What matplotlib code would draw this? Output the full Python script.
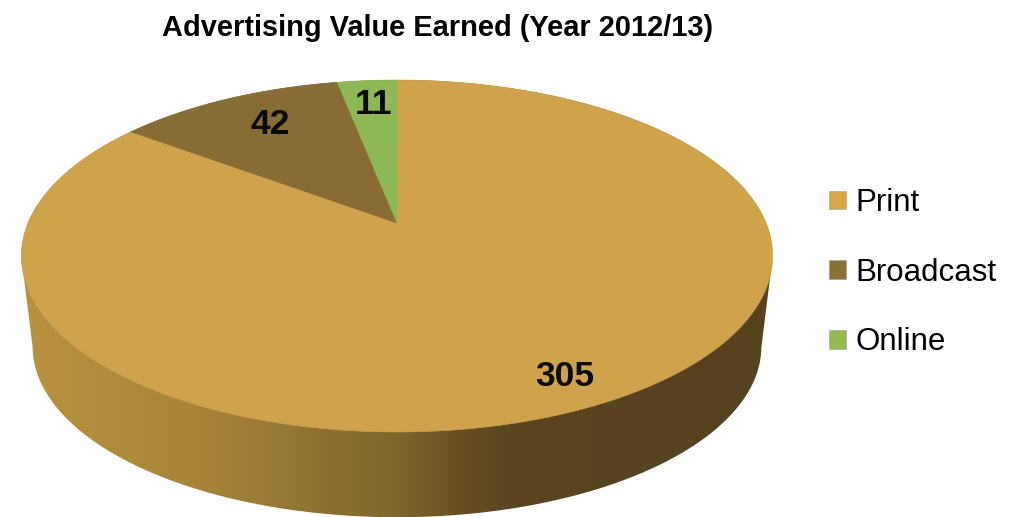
import numpy as np
import matplotlib
matplotlib.use("Agg")
import matplotlib.pyplot as plt
from matplotlib.colors import LinearSegmentedColormap
from matplotlib.patches import Patch, PathPatch, Polygon
from matplotlib.path import Path

plt.rcParams["font.family"] = ["Liberation Sans", "DejaVu Sans"]

title = "Advertising Value Earned (Year 2012/13)"
categories = ["Print", "Broadcast", "Online"]
values = [305, 42, 11]

colors = ["#CFA34C", "#876C35", "#8DB855"]
legend_colors = ["#D6A647", "#8C7036", "#95BA50"]
label_pos = [(565, 377), (270, 125), (374, 105)]

# pie geometry in pixels, the top face is a circle seen in perspective
cx, apex_y = 397, 223
radius = 369
persp = 0.1875
tilt = -128
side_scale = 0.97
face_mid_y, side_mid_y = 256, 346.5


def rim(theta):
    # theta runs clockwise from 12 o'clock
    w = 1 + persp * np.cos(theta)
    return cx + radius * np.sin(theta) / w, (tilt * np.cos(theta) + apex_y) / w


def lower_rim(theta):
    x, y = rim(theta)
    return cx + (x - cx) * side_scale, side_mid_y + (y - face_mid_y) * side_scale


fig = plt.figure(figsize=(10.18, 5.17), dpi=100)
ax = fig.add_axes([0, 0, 1, 1])
ax.set_xlim(0, 1018)
ax.set_ylim(517, 0)
ax.axis("off")

# side wall
t = np.linspace(0, 2 * np.pi, 721)
x_top, y_top = rim(t)
x_low, y_low = lower_rim(t)
left = np.argmin(x_top)
right = np.argmax(x_top)
# walk the top rim over the back, then the lower rim under the front
back = np.r_[left:len(t), 0:right + 1]
front = np.arange(right, left + 1)
outline = np.column_stack([np.r_[x_top[back], x_low[front]],
                           np.r_[y_top[back], y_low[front]]])
clip = PathPatch(Path(np.vstack([outline, outline[:1]])), fc="none", ec="none")
ax.add_patch(clip)

side_cmap = LinearSegmentedColormap.from_list("side", [
    (0.00, "#B8923F"), (0.25, "#A68338"), (0.50, "#7F662D"),
    (0.58, "#685125"), (0.65, "#5A4520"), (1.00, "#574220")])
im = ax.imshow(np.linspace(0, 1, 512)[None, :], cmap=side_cmap, aspect="auto",
               extent=(21, 772, 517, 80), zorder=1)
im.set_clip_path(clip)
ax.set_xlim(0, 1018)
ax.set_ylim(517, 0)

# top face, slices clockwise from 12 o'clock
edges = np.cumsum([0] + values) / sum(values) * 2 * np.pi
for i, name in enumerate(categories):
    a = np.linspace(edges[i], edges[i + 1], 400)
    xs, ys = rim(a)
    pts = np.vstack([[cx, apex_y], np.column_stack([xs, ys])])
    ax.add_patch(Polygon(pts, closed=True, fc=colors[i], ec=colors[i], lw=0.4, zorder=2))

for v, (lx, ly) in zip(values, label_pos):
    ax.text(lx, ly, str(v), ha="center", va="center", fontsize=25.5, fontweight="bold",
            color="#0A0A0A", zorder=3)

ax.text(437.5, 28, title, ha="center", va="center", fontsize=20.9, fontweight="bold", color="black")

handles = [Patch(fc=c, ec="#A0A0A0", lw=0.4) for c in legend_colors]
ax.legend(handles, categories, loc="upper left", bbox_to_anchor=(829 / 1018, 1 - 188 / 517),
          frameon=False, fontsize=22.5, handlelength=0.54, handleheight=0.54,
          handletextpad=0.3, labelspacing=1.27, borderpad=0, borderaxespad=0)

fig.savefig("out.png", dpi=100)
